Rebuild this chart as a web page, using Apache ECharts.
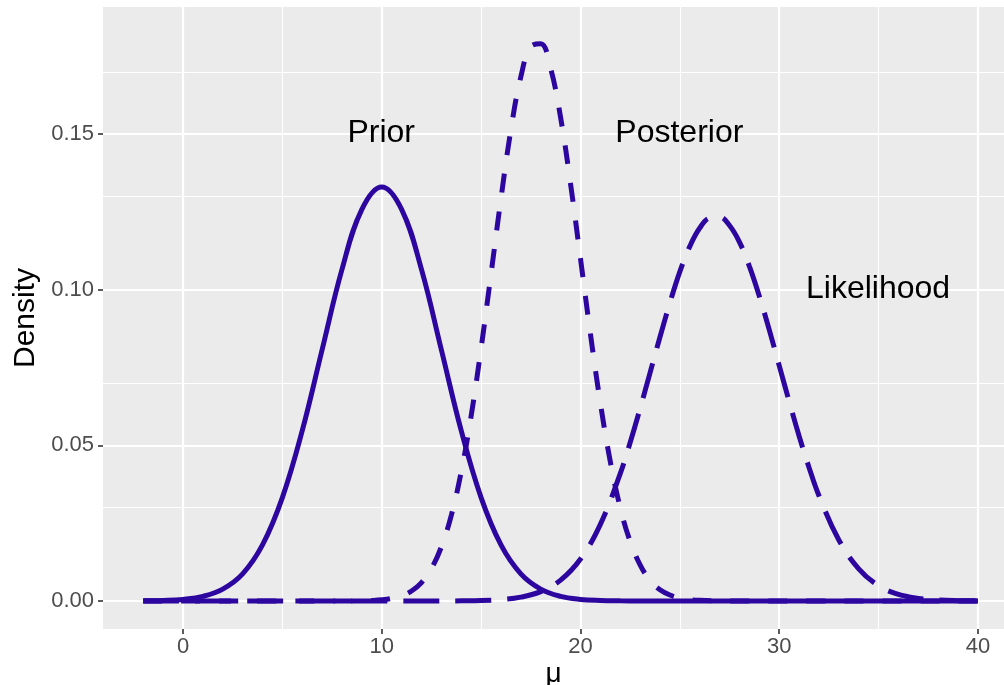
<!DOCTYPE html>
<html>
<head>
<meta charset="utf-8">
<script src="https://cdn.jsdelivr.net/npm/echarts@6/dist/echarts.min.js"></script>
<style>
  html, body { margin: 0; padding: 0; background: #fff; }
  #chart { width: 1004px; height: 685px; }
</style>
</head>
<body>
<div id="chart"></div>
<script>
// values (finer steps near the peaks)
var priorX = [-2, -1, 0, 1, 2, 3, 4, 5, 6, 7, 8, 9, 10, 11, 12, 13, 14, 15, 16, 17, 18, 19, 20,
              21, 22, 23, 40];
var prior = [0.00004, 0.00016, 0.00051, 0.00148, 0.0038, 0.0087, 0.0180, 0.0332, 0.0547, 0.0807,
             0.1065, 0.1258, 0.1330, 0.1258, 0.1065, 0.0807, 0.0547, 0.0332, 0.0180, 0.0087,
             0.0038, 0.00148, 0.00051, 0.00016, 0.00004, 0, 0];

var postX = [-2, 8, 9, 9.5, 10, 10.5, 11, 11.5, 12, 12.5, 13, 13.5, 14, 14.5, 15, 15.5, 16, 16.5,
             17, 17.5, 18, 18.5, 19, 19.5, 20, 20.5, 21, 21.5, 22, 22.5, 23, 23.5, 24, 24.5,
             25, 25.5, 26, 27, 28, 40];
var posterior = [0, 0, 0.00007, 0.00017, 0.00038, 0.00081, 0.00165, 0.0032, 0.0059, 0.0104,
                 0.0174, 0.0275, 0.0415, 0.0595, 0.0812, 0.1051, 0.1293, 0.1514, 0.1684, 0.1781,
                 0.1790, 0.1710, 0.1553, 0.1340, 0.1100, 0.0858, 0.0636, 0.0448, 0.0300, 0.0191,
                 0.0116, 0.0066, 0.0036, 0.0019, 0.00093, 0.00044, 0.00020, 0.00003, 0, 0];

var likX = [-2, 13, 14, 15, 16, 17, 18, 19, 20, 21, 22, 22.5, 23, 23.5, 24, 24.5, 25, 25.5, 26,
            26.5, 27, 27.5, 28, 28.5, 29, 29.5, 30, 30.5, 31, 31.5, 32, 33, 34, 35, 36, 37, 38,
            39, 40];
var likelihood = [0, 0, 0.00005, 0.00016, 0.00046, 0.00124, 0.0030, 0.0067, 0.0135, 0.0246,
                  0.0409, 0.0509, 0.0618, 0.0733, 0.0848, 0.0958, 0.1058, 0.1139, 0.1198, 0.1230,
                  0.1233, 0.1206, 0.1153, 0.1075, 0.0979, 0.0871, 0.0756, 0.0641, 0.0530, 0.0429,
                  0.0338, 0.0196, 0.0103, 0.0049, 0.0021, 0.00084, 0.00030, 0.0001, 0.00003];

var xTicks = [0, 10, 20, 30, 40];
var xMinor = [5, 15, 25, 35];
var yTicks = [0, 0.05, 0.10, 0.15];
var yMinor = [0.025, 0.075, 0.125, 0.175];

var labelText = ['Prior', 'Posterior', 'Likelihood'];
var labelX = [10, 25, 35];
var labelY = [0.15, 0.15, 0.10];

var lineColor = '#2D06A0';
var font = '"Liberation Sans", Arial, Helvetica, sans-serif';

function pairs(xv, yv) {
    return xv.map(function (x, i) { return [x, yv[i]]; });
}

function gridLines() {
    var d = [];
    xMinor.forEach(function (v) { d.push({ xAxis: v, lineStyle: { width: 1.1 } }); });
    yMinor.forEach(function (v) { d.push({ yAxis: v, lineStyle: { width: 1.1 } }); });
    xTicks.forEach(function (v) { d.push({ xAxis: v, lineStyle: { width: 2.2 } }); });
    yTicks.forEach(function (v) { d.push({ yAxis: v, lineStyle: { width: 2.2 } }); });
    return d;
}

var myChart = echarts.init(document.getElementById('chart'));

var option = {
    backgroundColor: '#ffffff',
    animation: false,
    grid: {
        left: 103, right: 0, top: 7, bottom: 56,
        outerBoundsMode: 'none',
        containLabel: false,
        show: true, backgroundColor: '#EBEBEB', borderWidth: 0
    },
    xAxis: {
        type: 'value',
        min: -4.025, max: 41.31,
        name: 'μ',
        nameLocation: 'middle',
        nameGap: 31,
        nameMoveOverlap: false,
        nameTextStyle: { fontFamily: font, fontSize: 28, color: '#000' },
        axisLine: { show: false, onZero: false },
        splitLine: { show: false },
        axisTick: { show: true, customValues: xTicks, length: 5, lineStyle: { color: '#333', width: 1.6 } },
        axisLabel: { customValues: xTicks, margin: 7, fontFamily: font, fontSize: 22, color: '#4D4D4D' }
    },
    yAxis: {
        type: 'value',
        min: -0.009, max: 0.1908,
        name: 'Density',
        nameLocation: 'middle',
        nameGap: 62,
        nameMoveOverlap: false,
        nameRotate: 90,
        nameTextStyle: { fontFamily: font, fontSize: 30, color: '#000' },
        axisLine: { show: false, onZero: false },
        splitLine: { show: false },
        axisTick: { show: true, customValues: yTicks, length: 5, lineStyle: { color: '#333', width: 1.6 } },
        axisLabel: {
            customValues: yTicks, margin: 9, fontFamily: font, fontSize: 22, color: '#4D4D4D',
            formatter: function (v) { return v.toFixed(2); }
        }
    },
    series: [
        {
            type: 'line', data: [], z: 0, silent: true,
            markLine: {
                silent: true, symbol: 'none', label: { show: false },
                z: 0,
                lineStyle: { color: '#FFFFFF', type: 'solid' },
                animation: false,
                data: gridLines()
            }
        },
        {
            name: 'Prior', type: 'line', data: pairs(priorX, prior), smooth: 0.4, showSymbol: false, z: 3,
            lineStyle: { color: lineColor, width: 5, type: 'solid', cap: 'butt' }
        },
        {
            name: 'Posterior', type: 'line', data: pairs(postX, posterior), smooth: 0.4, showSymbol: false, z: 3,
            lineStyle: { color: lineColor, width: 5, type: [19, 19], cap: 'butt' }
        },
        {
            name: 'Likelihood', type: 'line', data: pairs(likX, likelihood), smooth: 0.4, showSymbol: false, z: 3,
            lineStyle: { color: lineColor, width: 5, type: [36, 16], cap: 'butt' }
        },
        {
            type: 'scatter', symbolSize: 1, silent: true, z: 5,
            itemStyle: { opacity: 0 },
            data: labelText.map(function (t, i) { return { value: [labelX[i], labelY[i]], name: t }; }),
            label: {
                show: true, position: [0, 0], align: 'center', verticalAlign: 'middle',
                formatter: '{b}', opacity: 1,
                fontFamily: font, fontSize: 32, color: '#000000',
                textBorderWidth: 0
            }
        }
    ]
};

myChart.setOption(option);
</script>
</body>
</html>
